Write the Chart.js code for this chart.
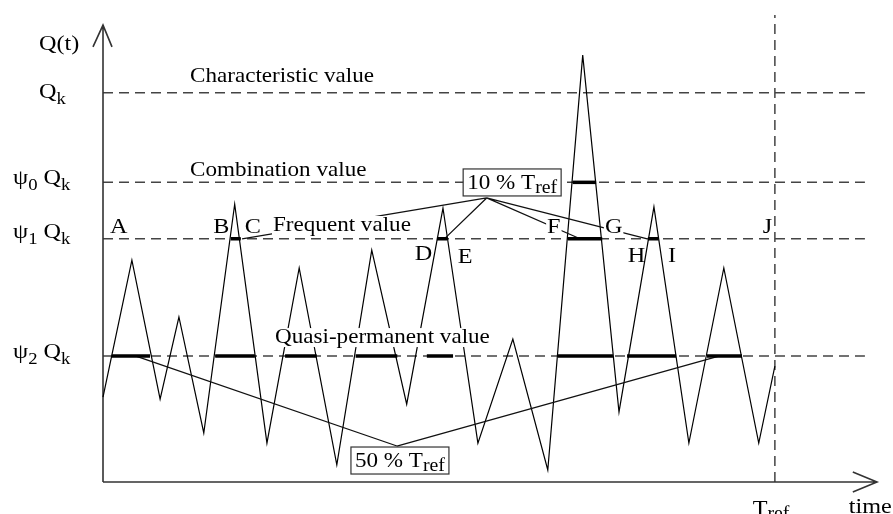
<!DOCTYPE html>
<html>
<head>
<meta charset="utf-8">
<script src="https://cdn.jsdelivr.net/npm/chart.js@4.4.0/dist/chart.umd.min.js"></script>
<style>
  html, body { margin: 0; padding: 0; background: #fff; }
  #wrap { width: 893px; height: 514px; }
</style>
</head>
<body>
<div id="wrap"><canvas id="loadChart" width="893" height="514"></canvas></div>
<script>
// 시간축: Tref = 100, 하중축: Qk = 100
const T_REF = 100;
const waveTime = [0, 4.3, 8.5, 11.3, 15.0, 19.6, 24.4, 29.2, 34.8, 40.0, 45.2, 50.6, 55.8, 61.0, 66.2, 71.4, 76.8, 82.0, 87.2, 92.4, 97.6, 100];
const waveLoad = [21.8, 57.0, 21.3, 42.4, 12.6, 71.4, 10.0, 55.0, 4.4, 59.6, 20.0, 70.4, 10.0, 36.7, 3.1, 109.7, 18.0, 70.7, 10.0, 55.0, 10.0, 29.8];

// 대표값 수준 (Qk, ψ0Qk, ψ1Qk, ψ2Qk)
const levelValues = [100, 77, 62.5, 32.4];

// 각 수준을 넘는 구간 (굵은 선)
const combinationSpans = [[69.9, 73.4]];
const frequentSpans = [[19.0, 20.5], [49.7, 51.2], [69.2, 74.3], [81.1, 82.7]];
const quasiSpans = [[1.3, 7.0], [16.7, 22.6], [27.1, 31.8], [37.6, 43.8], [48.2, 52.1], [67.7, 75.9], [78.0, 85.3], [89.9, 95.1]];

// 주석 지시선 (상자 -> 굵은 구간)
const box10Anchor = [57.1, 73.0];
const box10Targets = [[20.7, 62.5], [51.0, 62.8], [71.0, 62.5], [81.0, 62.5]];
const box50Anchor = [43.75, 9.25];
const box50Targets = [[4.8, 32.4], [91.8, 32.4]];

// 축 범위
const X_MAX = 115.2;
const Y_MAX = 120;
const LEVEL_END = 113.4;

const pt = (x, y) => ({ x: x, y: y });
const GAP = { x: null, y: null };

function spanPoints(spans, level) {
  const pts = [];
  spans.forEach(([a, b]) => pts.push(pt(a, level), pt(b, level), GAP));
  return pts;
}

function leaderPoints() {
  const pts = [];
  box10Targets.forEach((t) => pts.push(pt(box10Anchor[0], box10Anchor[1]), pt(t[0], t[1]), GAP));
  box50Targets.forEach((t) => pts.push(pt(box50Anchor[0], box50Anchor[1]), pt(t[0], t[1]), GAP));
  return pts;
}

const levelPoints = [];
levelValues.forEach((v) => levelPoints.push(pt(0, v), pt(LEVEL_END, v), GAP));

const axisPoints = [
  pt(0, 0), pt(X_MAX, 0), GAP,
  pt(111.6, 2.57), pt(X_MAX, 0), pt(111.6, -2.57), GAP,
  pt(0, 0), pt(0, 117.4), GAP,
  pt(-1.49, 111.8), pt(0, 117.4), pt(1.34, 111.8),
];

const wavePoints = waveTime.map((t, i) => pt(t, waveLoad[i]));

// 글자 그리기
const FONT = '"Liberation Serif", "DejaVu Serif", serif';
const STRETCH = 1.1;

function runWidth(ctx, runs) {
  let w = 0;
  runs.forEach((r) => {
    ctx.font = (r.size || 21) + "px " + FONT;
    w += ctx.measureText(r.t).width * STRETCH;
  });
  return w;
}

function drawRich(ctx, runs, x, y) {
  let cx = x;
  runs.forEach((r) => {
    ctx.font = (r.size || 21) + "px " + FONT;
    ctx.save();
    ctx.translate(cx, y + (r.dy || 0));
    ctx.scale(STRETCH, 1);
    ctx.fillText(r.t, 0, 0);
    ctx.restore();
    cx += ctx.measureText(r.t).width * STRETCH;
  });
  return cx - x;
}

// 흰 바탕 위에 글자
function drawMasked(ctx, runs, x, y, pad) {
  const w = runWidth(ctx, runs);
  ctx.fillStyle = "#fff";
  ctx.fillRect(x - pad, y - 15, w + pad * 2, 19);
  ctx.fillStyle = "#000";
  drawRich(ctx, runs, x, y);
}

const labelPlugin = {
  id: "diagramLabels",
  afterDatasetsDraw(chart) {
    const ctx = chart.ctx;
    const xs = chart.scales.x;
    const ys = chart.scales.y;
    const px = (v) => xs.getPixelForValue(v);
    const py = (v) => ys.getPixelForValue(v);

    ctx.save();
    ctx.fillStyle = "#000";
    ctx.textBaseline = "alphabetic";
    ctx.textAlign = "left";

    const sub = (t) => ({ t: t, size: 17, dy: 6 });
    const ref = { t: "ref", size: 18, dy: 4 };

    // 세로축 라벨
    drawRich(ctx, [{ t: "Q(t)", size: 22 }], px(-9.52), py(111.0));
    drawRich(ctx, [{ t: "Q", size: 22 }, sub("k")], px(-9.52), py(98.7));
    drawRich(ctx, [{ t: "ψ", size: 22 }, sub("0"), { t: " Q", size: 22 }, sub("k")], px(-13.39), py(76.6));
    drawRich(ctx, [{ t: "ψ", size: 22 }, sub("1"), { t: " Q", size: 22 }, sub("k")], px(-13.39), py(62.7));
    drawRich(ctx, [{ t: "ψ", size: 22 }, sub("2"), { t: " Q", size: 22 }, sub("k")], px(-13.39), py(31.9));

    // 수준 이름
    drawRich(ctx, [{ t: "Characteristic value" }], px(12.95), py(102.8));
    drawRich(ctx, [{ t: "Combination value" }], px(12.95), py(78.6));
    drawMasked(ctx, [{ t: "Frequent value" }], px(25.3), py(64.5), 1);
    drawMasked(ctx, [{ t: "Quasi-permanent value" }], px(25.6), py(35.7), 1);

    // 점 이름 (F, G 는 지시선을 가림)
    const letters = [
      ["A", 1.04, 64.0, false], ["B", 16.4, 64.0, false], ["C", 21.1, 64.0, false],
      ["D", 46.4, 57.0, false], ["E", 52.8, 56.3, false], ["F", 66.1, 64.0, true],
      ["G", 74.7, 64.0, true], ["H", 78.1, 56.5, false], ["I", 84.1, 56.5, false], ["J", 98.2, 64.0, false],
    ];
    letters.forEach(([t, x, y, mask]) => {
      if (mask) drawMasked(ctx, [{ t: t, size: 22 }], px(x), py(y), 1);
      else drawRich(ctx, [{ t: t, size: 22 }], px(x), py(y));
    });

    // 상자 주석
    function boxed(runs, x, y) {
      const w = runWidth(ctx, runs);
      ctx.fillStyle = "#fff";
      ctx.fillRect(x - 4, y - 20, w + 8, 27);
      ctx.strokeStyle = "#333";
      ctx.lineWidth = 1.2;
      ctx.strokeRect(x - 4, y - 20, w + 8, 27);
      ctx.fillStyle = "#000";
      drawRich(ctx, runs, x, y);
    }
    boxed([{ t: "10 % T" }, ref], px(54.2), py(75.3));
    boxed([{ t: "50 % T" }, ref], px(37.5), py(3.85));

    // 가로축 라벨
    drawRich(ctx, [{ t: "T", size: 22 }, ref], px(T_REF - 3.3), py(-8.5));
    drawRich(ctx, [{ t: "time", size: 22 }], px(111.0), py(-8.0));

    ctx.restore();
  },
};

const lineDefaults = { showLine: true, pointRadius: 0, spanGaps: false, clip: false, fill: false };

new Chart(document.getElementById("loadChart").getContext("2d"), {
  type: "scatter",
  data: {
    datasets: [
      { ...lineDefaults, label: "combination", data: spanPoints(combinationSpans, levelValues[1]), borderColor: "#000", borderWidth: 3.5 },
      { ...lineDefaults, label: "frequent", data: spanPoints(frequentSpans, levelValues[2]), borderColor: "#000", borderWidth: 3.5 },
      { ...lineDefaults, label: "quasi", data: spanPoints(quasiSpans, levelValues[3]), borderColor: "#000", borderWidth: 3.5 },
      { ...lineDefaults, label: "leaders", data: leaderPoints(), borderColor: "#111", borderWidth: 1.3 },
      { ...lineDefaults, label: "Q(t)", data: wavePoints, borderColor: "#000", borderWidth: 1.2, tension: 0 },
      { ...lineDefaults, label: "axes", data: axisPoints, borderColor: "#333", borderWidth: 1.6 },
      { ...lineDefaults, label: "levels", data: levelPoints, borderColor: "#444", borderWidth: 1.5, borderDash: [10, 6] },
      { ...lineDefaults, label: "Tref", data: [pt(T_REF, 0), pt(T_REF, Y_MAX)], borderColor: "#444", borderWidth: 1.5, borderDash: [10, 6] },
    ],
  },
  options: {
    responsive: false,
    animation: false,
    layout: { padding: { left: 103, right: 16, top: 15, bottom: 32 } },
    plugins: { legend: { display: false }, tooltip: { enabled: false }, title: { display: false } },
    scales: {
      x: { type: "linear", min: 0, max: X_MAX, display: false },
      y: { type: "linear", min: 0, max: Y_MAX, display: false },
    },
    elements: { line: { borderCapStyle: "butt", borderJoinStyle: "miter" } },
  },
  plugins: [labelPlugin],
});
</script>
</body>
</html>
